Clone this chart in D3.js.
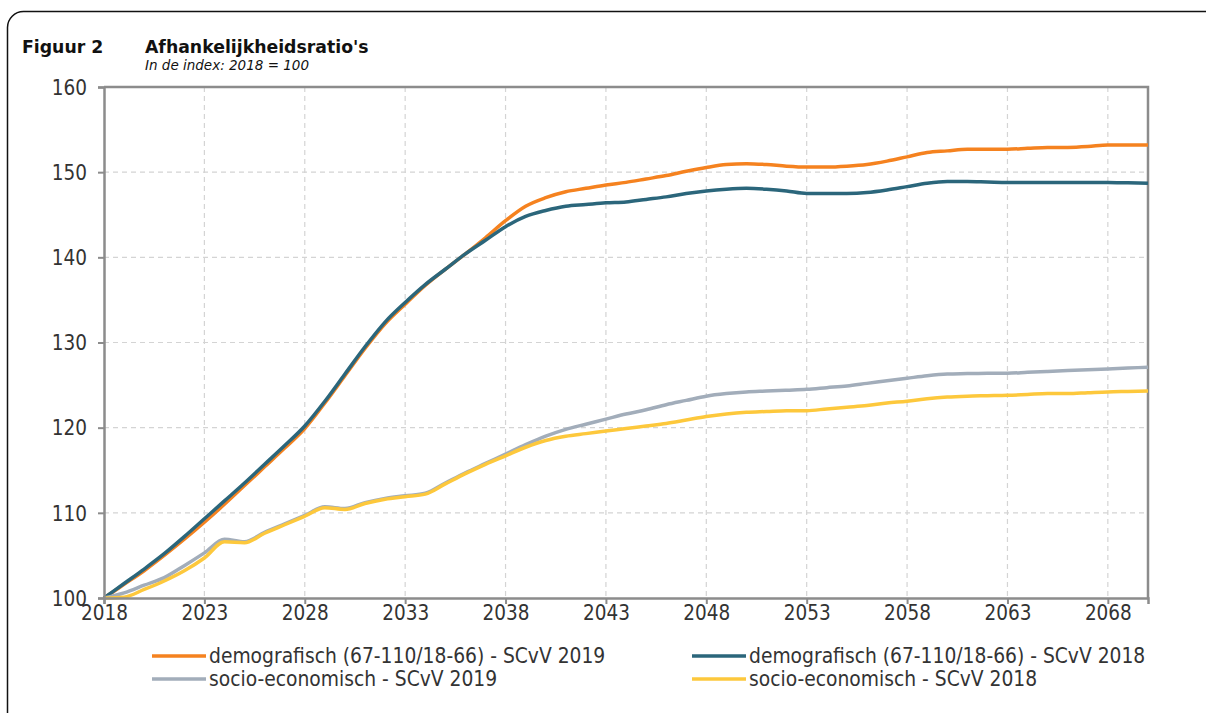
<!DOCTYPE html>
<html>
<head>
<meta charset="utf-8">
<script src="https://cdn.jsdelivr.net/npm/d3@7"></script>
<style>
  body { margin: 0; background: #fff; }
  svg { display: block; }
  .lbl { font-family: "Liberation Sans Narrow", "DejaVu Sans Condensed", "Liberation Sans", sans-serif; fill: #333; }
</style>
</head>
<body>
<svg id="chart" width="1206" height="713"></svg>
<script>
// years 2018..2070
var years = d3.range(2018, 2071);
var xTicks = [2018, 2023, 2028, 2033, 2038, 2043, 2048, 2053, 2058, 2063, 2068];
var yTicks = [100, 110, 120, 130, 140, 150, 160];

var demo2019 = [100, 101.6, 103.2, 105.0, 106.9, 108.9, 111.0, 113.2, 115.4, 117.6, 119.9, 122.9, 126.1, 129.3, 132.2, 134.5, 136.7, 138.6, 140.4, 142.3, 144.3, 146.0, 147.0, 147.7, 148.1, 148.5, 148.8, 149.2, 149.6, 150.1, 150.55, 150.9, 151.0, 150.9, 150.7, 150.6, 150.6, 150.7, 150.9, 151.3, 151.8, 152.3, 152.5, 152.7, 152.7, 152.7, 152.8, 152.9, 152.9, 153.0, 153.2, 153.2, 153.2];
var demo2018 = [100, 101.7, 103.4, 105.2, 107.2, 109.3, 111.4, 113.5, 115.7, 117.9, 120.2, 123.1, 126.3, 129.5, 132.4, 134.7, 136.8, 138.6, 140.4, 142.0, 143.6, 144.8, 145.5, 146.0, 146.2, 146.4, 146.5, 146.8, 147.1, 147.5, 147.8, 148.0, 148.1, 148.0, 147.8, 147.5, 147.5, 147.5, 147.6, 147.9, 148.3, 148.7, 148.9, 148.9, 148.85, 148.8, 148.8, 148.8, 148.8, 148.8, 148.8, 148.75, 148.7];
var socio2019 = [100, 100.6, 101.5, 102.4, 103.8, 105.3, 106.9, 106.6, 107.7, 108.7, 109.7, 110.7, 110.5, 111.2, 111.7, 112.0, 112.3, 113.5, 114.7, 115.8, 116.9, 118.0, 119.0, 119.8, 120.4, 121.0, 121.6, 122.1, 122.7, 123.2, 123.7, 124.0, 124.2, 124.3, 124.4, 124.5, 124.7, 124.9, 125.2, 125.5, 125.8, 126.1, 126.3, 126.35, 126.4, 126.4, 126.5, 126.6, 126.7, 126.8, 126.9, 127.0, 127.1];
var socio2018 = [100, 100.1, 101.0, 102.0, 103.2, 104.7, 106.6, 106.5, 107.6, 108.6, 109.6, 110.6, 110.4, 111.1, 111.6, 111.9, 112.2, 113.4, 114.6, 115.7, 116.7, 117.7, 118.5, 119.0, 119.3, 119.6, 119.9, 120.2, 120.5, 120.9, 121.3, 121.6, 121.8, 121.9, 122.0, 122.0, 122.2, 122.4, 122.6, 122.9, 123.1, 123.4, 123.6, 123.7, 123.75, 123.8, 123.9, 124.0, 124.0, 124.1, 124.2, 124.25, 124.3];

var seriesNames = ["demografisch (67-110/18-66) - SCvV 2019", "demografisch (67-110/18-66) - SCvV 2018", "socio-economisch - SCvV 2019", "socio-economisch - SCvV 2018"];
var seriesColors = ["#f5821f", "#2b667b", "#a2adba", "#fdc83c"];
var seriesValues = [demo2019, demo2018, socio2019, socio2018];

(function(){
var svg = d3.select("#chart"),
    pLeft = 104, pRight = 1148, pTop = 87, pBottom = 598;

var x = d3.scaleLinear().domain([2018, 2070]).range([pLeft, pRight]);
var y = d3.scaleLinear().domain([100, 160]).range([pBottom, pTop]);

// outer frame
svg.append("rect")
  .attr("x", 7.5).attr("y", 11.5).attr("width", 1230).attr("height", 740)
  .attr("rx", 16).attr("fill", "none").attr("stroke", "#111").attr("stroke-width", 1.5);

// titles
svg.append("text").attr("x", 22).attr("y", 53)
  .style("font-family", "'DejaVu Sans', sans-serif").style("font-weight", "bold").style("font-size", "17.3px")
  .attr("fill", "#111").text("Figuur 2");
svg.append("text").attr("x", 145).attr("y", 53)
  .style("font-family", "'DejaVu Sans', sans-serif").style("font-weight", "bold").style("font-size", "17.3px")
  .attr("fill", "#111").text("Afhankelijkheidsratio's");
svg.append("text").attr("x", 145).attr("y", 70)
  .style("font-family", "'DejaVu Sans', sans-serif").style("font-style", "italic").style("font-size", "13.5px")
  .attr("fill", "#111").text("In de index: 2018 = 100");

// gridlines
var grid = svg.append("g");
grid.selectAll("line.gx").data(xTicks.slice(1)).enter().append("line")
  .attr("x1", function(d){ return x(d); }).attr("x2", function(d){ return x(d); })
  .attr("y1", pTop).attr("y2", pBottom)
  .attr("stroke", "#d4d4d4").attr("stroke-width", 1.2).attr("stroke-dasharray", "5,4");
grid.selectAll("line.gy").data(yTicks.slice(1, -1)).enter().append("line")
  .attr("y1", function(d){ return y(d); }).attr("y2", function(d){ return y(d); })
  .attr("x1", pLeft).attr("x2", pRight)
  .attr("stroke", "#d4d4d4").attr("stroke-width", 1.2).attr("stroke-dasharray", "5,4");

// plot border top / right
svg.append("path")
  .attr("d", "M" + pLeft + "," + pTop + "H" + pRight + "V" + pBottom)
  .attr("fill", "none").attr("stroke", "#8c8c8c").attr("stroke-width", 2.5);

// lines
var line = d3.line()
  .x(function(d, i){ return x(years[i]); })
  .y(function(d){ return y(d); })
  .curve(d3.curveMonotoneX);

svg.append("g").selectAll("path").data(seriesValues).enter().append("path")
  .attr("d", line)
  .attr("fill", "none")
  .attr("stroke", function(d, i){ return seriesColors[i]; })
  .attr("stroke-width", 3.5)
  .attr("stroke-linejoin", "round");

// axes
var xAxis = svg.append("g").attr("transform", "translate(0," + pBottom + ")")
  .call(d3.axisBottom(x).tickValues(xTicks).tickFormat(d3.format("d")).tickSize(6).tickPadding(1));
var yAxis = svg.append("g").attr("transform", "translate(" + pLeft + ",0)")
  .call(d3.axisLeft(y).tickValues(yTicks).tickSize(6).tickPadding(11));
[xAxis, yAxis].forEach(function(a){
  a.select(".domain").attr("stroke", "#8c8c8c").attr("stroke-width", 2.5);
  a.selectAll(".tick line").attr("stroke", "#8c8c8c").attr("stroke-width", 2);
  a.selectAll(".tick text").attr("class", "lbl").style("font-size", "20.5px").attr("fill", "#333");
});
yAxis.selectAll(".tick text").attr("dy", "0.35em");

// legend
var legPos = [[152, 656], [692, 656], [152, 679], [692, 679]];
var leg = svg.append("g").selectAll("g").data(seriesNames).enter().append("g")
  .attr("transform", function(d, i){ return "translate(" + legPos[i][0] + "," + legPos[i][1] + ")"; });
leg.append("line").attr("x1", 0).attr("x2", 54).attr("y1", 0).attr("y2", 0)
  .attr("stroke", function(d, i){ return seriesColors[i]; }).attr("stroke-width", 3.5);
leg.append("text").attr("class", "lbl").attr("x", 57).attr("dy", "0.35em")
  .style("font-size", "20.8px").text(function(d){ return d; });
})();
</script>
</body>
</html>
